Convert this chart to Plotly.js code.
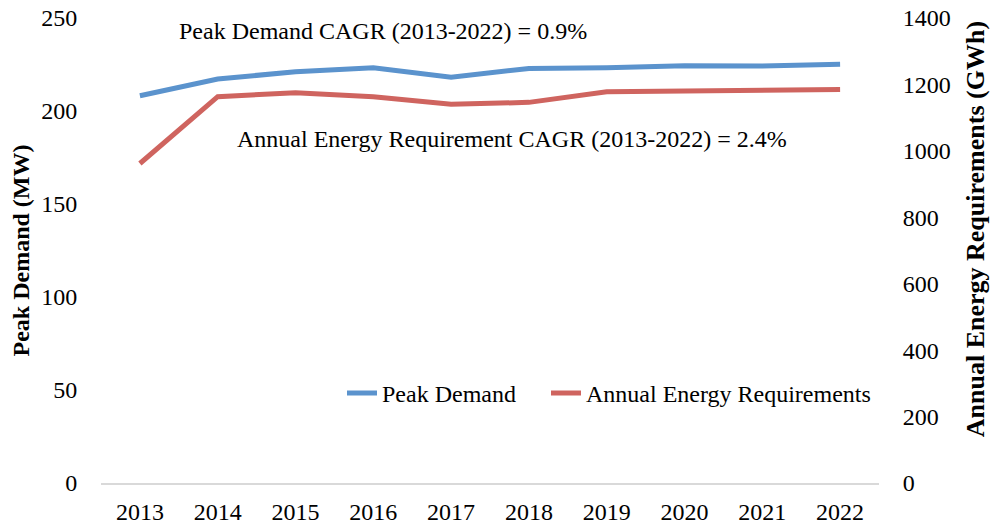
<!DOCTYPE html>
<html>
<head>
<meta charset="utf-8">
<script src="https://cdn.plot.ly/plotly-3.0.1.min.js"></script>
<style>
  html, body { margin: 0; padding: 0; background: #fff; }
  #chart { width: 990px; height: 529px; }
</style>
</head>
<body>
<div id="chart"></div>
<script>
var years = ['2013', '2014', '2015', '2016', '2017', '2018', '2019', '2020', '2021', '2022'];
var peakDemand = [208.2, 217.2, 221.1, 223.2, 218.1, 222.9, 223.2, 224.3, 224.2, 225.1];
var energyReq = [962, 1163, 1175, 1163, 1140, 1146, 1178, 1181, 1182, 1185];

var FONT = 'Liberation Serif, Times New Roman, serif';

// plot area in px, used to place legends / notes
var PX = { l: 101, w: 778, b: 482.5, h: 464.5 };
function px(x) { return (x - PX.l) / PX.w; }
function py(y) { return (PX.b - y) / PX.h; }

var tPeak = {
  x: years,
  y: peakDemand,
  name: 'Peak Demand',
  type: 'scatter',
  mode: 'lines',
  line: { color: '#5b93cd', width: 5 },
  legend: 'legend'
};

var tEnergy = {
  x: years,
  y: energyReq,
  name: 'Annual Energy Requirements',
  type: 'scatter',
  mode: 'lines',
  line: { color: '#cf645f', width: 5 },
  yaxis: 'y2',
  legend: 'legend2'
};

var legendBase = {
  orientation: 'h',
  y: py(393),
  xanchor: 'left', yanchor: 'middle',
  bgcolor: 'rgba(0,0,0,0)',
  font: { family: FONT, size: 24, color: '#000' }
};

var layout = {
  width: 990,
  height: 529,
  paper_bgcolor: '#fff',
  plot_bgcolor: '#fff',
  font: { family: FONT, color: '#000', size: 24 },
  margin: { t: 18, r: 111, b: 46, l: 101 },
  showlegend: true,
  legend: Object.assign({}, legendBase, { x: px(342) }),
  legend2: Object.assign({}, legendBase, { x: px(546) }),
  xaxis: {
    type: 'category',
    range: [-0.5, 9.5],
    showgrid: false,
    showline: true,
    linecolor: '#d9d9d9',
    linewidth: 1.5,
    ticks: 'outside',
    ticklen: 6,
    tickcolor: 'rgba(0,0,0,0)',
    zeroline: false
  },
  yaxis: {
    range: [0, 250],
    dtick: 50,
    showgrid: false,
    showline: false,
    zeroline: false,
    ticks: 'outside',
    ticklen: 18,
    tickcolor: 'rgba(0,0,0,0)',
    title: { text: '<b>Peak Demand (MW)</b>', font: { family: FONT, size: 24 }, standoff: 4 }
  },
  yaxis2: {
    range: [0, 1400],
    dtick: 200,
    overlaying: 'y',
    side: 'right',
    showgrid: false,
    showline: false,
    zeroline: false,
    ticks: 'outside',
    ticklen: 18,
    tickcolor: 'rgba(0,0,0,0)'
  },
  annotations: [
    {
      xref: 'paper', yref: 'paper',
      x: px(383), y: py(31),
      xanchor: 'center', yanchor: 'middle',
      text: 'Peak Demand CAGR (2013-2022) = 0.9%',
      showarrow: false,
      font: { family: FONT, size: 24, color: '#000' }
    },
    {
      xref: 'paper', yref: 'paper',
      x: px(512), y: py(139),
      xanchor: 'center', yanchor: 'middle',
      text: 'Annual Energy Requirement CAGR (2013-2022) = 2.4%',
      showarrow: false,
      font: { family: FONT, size: 24, color: '#000' }
    },
    {
      xref: 'paper', yref: 'paper',
      x: px(975), y: py(229),
      xanchor: 'center', yanchor: 'middle',
      textangle: -90,
      text: '<b>Annual Energy Requirements (GWh)</b>',
      showarrow: false,
      font: { family: FONT, size: 26, color: '#000' }
    }
  ]
};

Plotly.newPlot('chart', [tPeak, tEnergy], layout, { displayModeBar: false, responsive: false });
</script>
</body>
</html>
